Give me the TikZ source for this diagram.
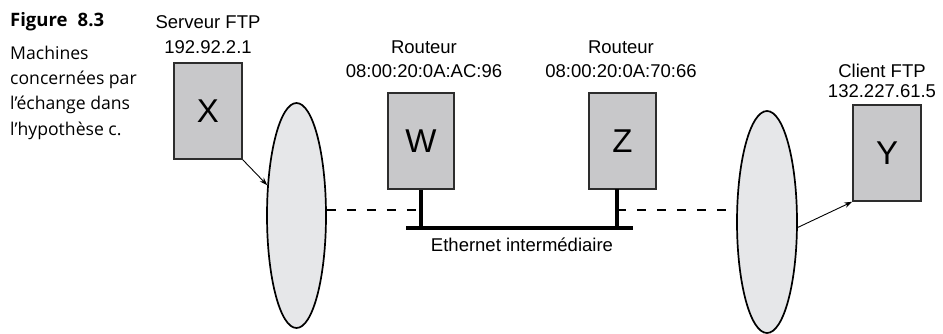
\documentclass[tikz,border=0pt]{standalone}
\usepackage{fontspec}
\setmainfont{Liberation Sans}
\newfontfamily\capfont{Open Sans}
\usetikzlibrary{shapes.geometric,arrows.meta}
\definecolor{boxgray}{RGB}{200,200,202}
\definecolor{boxline}{RGB}{45,45,45}
\definecolor{cloudgray}{RGB}{230,231,233}
\begin{document}
\begin{tikzpicture}[x=1pt,y=-1pt,
  machine/.style={draw=boxline,line width=1.5pt,fill=boxgray,minimum width=66pt,minimum height=96pt,inner sep=0pt,font=\fontsize{33}{35}\selectfont},
  netcloud/.style={draw=black,line width=1.7pt,fill=cloudgray,ellipse,inner sep=0pt},
  lbl/.style={font=\fontsize{18.5}{20}\selectfont,anchor=base,inner sep=0pt},
  captext/.style={font=\capfont\fontsize{17.6}{20}\selectfont,anchor=base west,inner sep=0pt},
  thinarrow/.style={-{Stealth[length=8pt,width=5.5pt]},line width=0.9pt},
  busline/.style={line width=4pt},
  stemline/.style={line width=3.6pt},
  dashline/.style={dash pattern=on 9pt off 11pt,line width=1.4pt}]
\useasboundingbox (0,0) rectangle (943,333);
% caption
\node[captext,font=\capfont\bfseries\fontsize{18.5}{20}\selectfont] (c0) at (10,26) {Figure\hspace{0.55em}8.3};
\node[captext] (c1) at (10,59) {Machines};
\node[captext] (c2) at (10,84) {concernées par};
\node[captext] (c3) at (10,109.5) {l’échange dans};
\node[captext] (c4) at (10,135) {l’hypothèse c.};
% networks
\node[netcloud,minimum width=59pt,minimum height=225pt] (L) at (296.5,215.5) {};
\node[netcloud,minimum width=60pt,minimum height=222pt] (R) at (767,222) {};
% machines
\node[machine,minimum width=68pt] (X) at (208,111) {X};
\node[machine] (W) at (421,141) {W};
\node[machine,minimum width=67pt] (Z) at (622.5,141) {Z};
\node[machine,minimum width=68pt] (Y) at (887,153) {Y};
% labels
\node[lbl] (xl1) at (208,28) {Serveur FTP};
\node[lbl] (xl2) at (208,53) {192.92.2.1};
\node[lbl] (wl1) at (424,53) {Routeur};
\node[lbl] (wl2) at (424,77) {08:00:20:0A:AC:96};
\node[lbl] (zl1) at (621,53) {Routeur};
\node[lbl] (zl2) at (621,77) {08:00:20:0A:70:66};
\node[lbl] (yl1) at (882,77) {Client FTP};
\node[lbl] (yl2) at (882,97) {132.227.61.5};
\node[lbl] (eth) at (522,251) {Ethernet intermédiaire};
% bus
\coordinate (busL) at (406,228);
\coordinate (busR) at (633,228);
\coordinate (zs) at (617,189);
\coordinate (wd) at (421,210);
\coordinate (zd) at (617,210);
\draw[dashline] (L.east |- wd) -- (wd);
\draw[dashline] (zd) -- (R.west |- zd);
\draw[busline] (busL) -- (busR);
\draw[stemline] (W.south) -- (W.south |- busL);
\draw[stemline] (zs) -- (zs |- busL);
% arrows
\draw[thinarrow] (X.south east) -- (L);
\draw[thinarrow] (R.-10) -- (Y.south west);
\end{tikzpicture}
\end{document}
